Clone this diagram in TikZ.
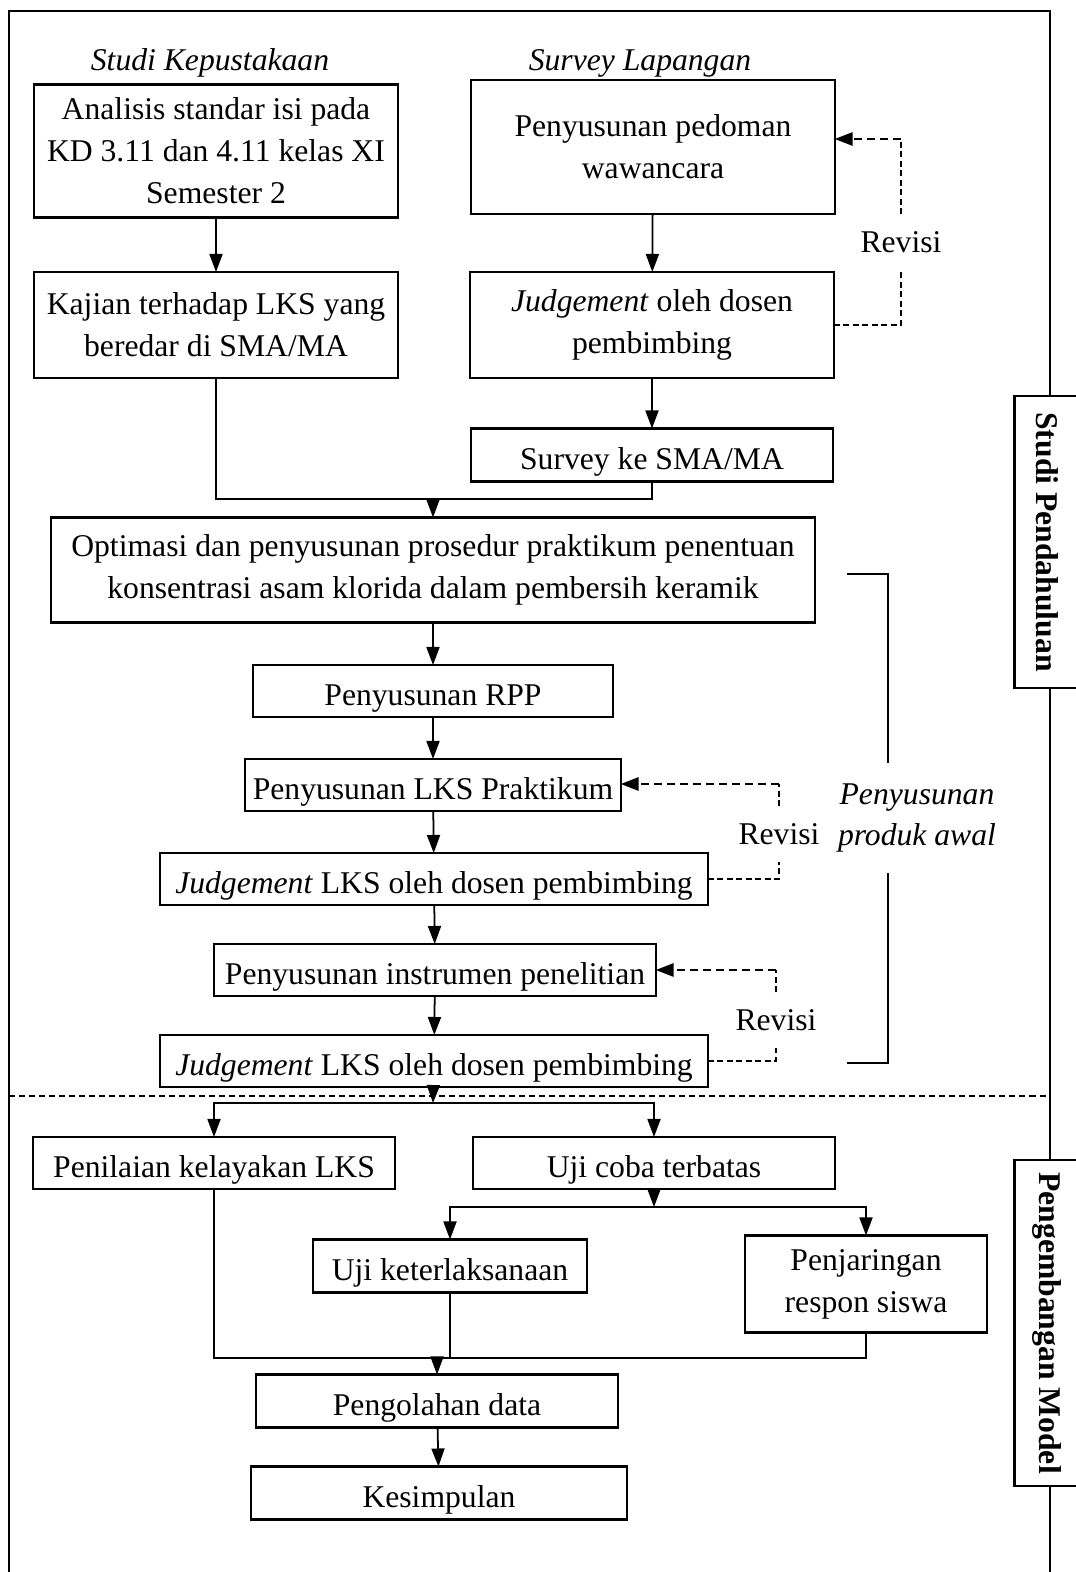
\documentclass[tikz,border=0pt]{standalone}
\usepackage{fontspec}
\setmainfont{Liberation Serif}
\usetikzlibrary{arrows.meta}

\begin{document}
\begin{tikzpicture}[x=0.01cm, y=-0.01cm,
  font=\fontsize{9}{11.9}\selectfont,
  >={Triangle[length=1.8mm, width=1.3mm]},
  box/.style={draw, line width=0.6pt, fill=white, align=center, inner sep=0pt, outer sep=0pt},
  one/.style={box, text height=0.29cm, text depth=0pt},
  line/.style={line width=0.5pt},
  rev/.style={line width=0.45pt, dash pattern=on 0.06cm off 0.035cm},
  revbold/.style={line width=0.8pt, dash pattern=on 0.08cm off 0.05cm},
  gap/.style={fill=white, inner sep=0pt, minimum height=0.54cm},
  side/.style={draw, line width=0.6pt, fill=white, rotate=-90, inner sep=0pt, minimum height=0.65cm}]

\useasboundingbox (0,0) rectangle (1076,1572);

% frame and separator
\draw[line width=0.6pt] (9,1572) -- (9,11) -- (1050,11) -- (1050,1572);
\draw[line width=0.6pt, dash pattern=on 0.06cm off 0.04cm] (9,1096) -- (1050,1096);

% headings
\node (hk) at (210,63) {\textit{Studi Kepustakaan}};
\node (hs) at (640,63) {\textit{Survey Lapangan}};

% studi kepustakaan
\node[box, minimum width=3.63cm, minimum height=1.33cm] (a1) at (216,151) {Analisis standar isi pada\\KD 3.11 dan 4.11 kelas XI\\Semester 2};
\node[box, minimum width=3.63cm, minimum height=1.06cm] (a2) at (216,325) {Kajian terhadap LKS yang\\beredar di SMA/MA};

% survey lapangan
\node[box, minimum width=3.63cm, minimum height=1.34cm] (b1) at (653,147) {Penyusunan pedoman\\wawancara};
\node[box, minimum width=3.63cm, minimum height=1.06cm] (b2) at (652,325) {\textit{Judgement} oleh dosen\\pembimbing};
\node[one, minimum width=3.61cm, minimum height=0.53cm] (b3) at (652,455) {Survey ke SMA/MA};

% penyusunan produk awal
\node[box, minimum width=7.64cm, minimum height=1.05cm] (c) at (433,570) {Optimasi dan penyusunan prosedur praktikum penentuan\\konsentrasi asam klorida dalam pembersih keramik};
\node[one, minimum width=3.60cm, minimum height=0.52cm] (d) at (433,691) {Penyusunan RPP};
\node[one, minimum width=3.75cm, minimum height=0.52cm] (e) at (433,785) {Penyusunan LKS Praktikum};
\node[one, minimum width=5.47cm, minimum height=0.52cm] (f) at (434,879) {\textit{Judgement} LKS oleh dosen pembimbing};
\node[one, minimum width=4.41cm, minimum height=0.52cm] (g) at (435,970) {Penyusunan instrumen penelitian};
\node[one, minimum width=5.47cm, minimum height=0.52cm] (h) at (434,1061) {\textit{Judgement} LKS oleh dosen pembimbing};

% pengembangan model
\node[one, minimum width=3.62cm, minimum height=0.52cm] (i) at (214,1163) {Penilaian kelayakan LKS};
\node[one, minimum width=3.61cm, minimum height=0.52cm] (j) at (654,1163) {Uji coba terbatas};
\node[one, minimum width=2.74cm, minimum height=0.53cm] (k) at (450,1266) {Uji keterlaksanaan};
\node[box, minimum width=2.41cm, minimum height=0.97cm] (l) at (866,1284) {Penjaringan\\respon siswa};
\node[one, minimum width=3.62cm, minimum height=0.53cm] (m) at (437,1401) {Pengolahan data};
\node[one, minimum width=3.76cm, minimum height=0.53cm] (n) at (439,1493) {Kesimpulan};

% junctions
\coordinate (j1) at (433,499);
\coordinate (j2) at (433,1103);
\coordinate (j3) at (654,1207);
\coordinate (j4) at (437,1358);

% main flow
\draw[line, ->] (a1) -- (a2);
\draw[line, ->] (b1) -- (b2);
\draw[line, ->] (b2) -- (b3);
\draw[line] (a2.south) |- (j1) -| (b3.south);
\draw[line, ->] (j1) -- (c);
\draw[line, ->] (c) -- (d);
\draw[line, ->] (d) -- (e);
\draw[line, ->] (e) -- (f);
\draw[line, ->] (f) -- (g);
\draw[line, ->] (g) -- (h);
\draw[line, ->] (h) -- (j2);
\draw[line, ->] (j2) -| (i.north);
\draw[line, ->] (j2) -| (j.north);
\draw[line, ->] (j) -- (j3);
\draw[line, ->] (j3) -| (k.north);
\draw[line, ->] (j3) -| (l.north);
\draw[line] (i.south) |- (j4);
\draw[line] (k.south) -- (k.south |- j4);
\draw[line] (l.south) |- (j4);
\draw[line, ->] (j4) -- (m);
\draw[line, ->] (m) -- (n);

% revisi loops
\coordinate (r1) at (901,139);
\node[gap] (rv1) at (901,242) {Revisi};
\draw[rev] (b2.east) -| (rv1.south);
\draw[rev] (rv1.north) -- (r1);
\draw[revbold, ->] (r1) -- (b1.east |- r1);

\coordinate (r2) at (779,784);
\node[gap] (rv2) at (779,834) {Revisi};
\draw[rev] (f.east) -| (rv2.south);
\draw[rev] (rv2.north) -- (r2);
\draw[revbold, ->] (r2) -- (e.east |- r2);

\coordinate (r3) at (776,970);
\node[gap] (rv3) at (776,1020) {Revisi};
\draw[rev] (h.east) -| (rv3.south);
\draw[rev] (rv3.north) -- (r3);
\draw[revbold, ->] (r3) -- (g.east |- r3);

% bracket
\coordinate (p1) at (847,574);
\coordinate (p2) at (847,1063);
\draw[line width=0.6pt] (p1) -- ++(41,0) |- (p2);
\node[gap, minimum height=1.1cm, align=center] (pa) at (917,818) {\textit{Penyusunan}\\\textit{produk awal}};

% side labels
\node[side, minimum width=2.91cm] (sp) at (1047,542) {\textbf{Studi Pendahuluan}};
\node[side, minimum width=3.26cm] (pm) at (1047,1323) {\textbf{Pengembangan Model}};

\end{tikzpicture}
\end{document}
